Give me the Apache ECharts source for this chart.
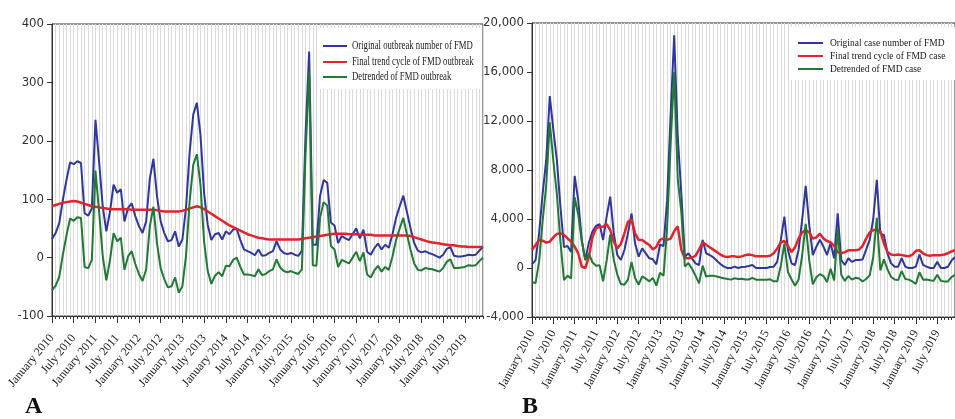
<!DOCTYPE html>
<html><head><meta charset="utf-8">
<script src="https://cdn.jsdelivr.net/npm/echarts@6/dist/echarts.min.js"></script>
<style>html,body{margin:0;padding:0;background:#fff}#c{width:955px;height:419px}</style>
</head><body><div id="c"></div>
<script>
const monthNames = ['January','February','March','April','May','June','July','August','September','October','November','December'];
const years = [2010,2011,2012,2013,2014,2015,2016,2017,2018,2019];
const categories = [];
for (const y of years) for (const m of monthNames) categories.push(m + ' ' + y);

// Panel A: FMD outbreaks
const outbreakOriginal = [
  32,42,59,99,133,163,160,165,162,76,72,84,
  236,165,88,45,78,125,111,117,62,85,93,71,
  54,42,62,135,169,105,62,42,28,30,45,19,
  31,85,180,245,265,210,110,56,30,40,42,31,
  45,40,48,49,30,14,11,8,4,14,3,4,
  8,11,28,14,8,6,8,5,3,12,210,353,
  22,22,105,133,128,60,55,25,37,33,30,40,
  50,33,48,10,5,16,24,14,22,17,40,68,
  88,106,78,50,25,12,9,11,8,6,3,0,
  5,15,18,3,2,2,3,5,4,5,12,18];
const outbreakTrend = [
  88,90,92,94,95,96,97,96,94,92,90,88,
  87,86,85,84,83,83,83,83,83,83,82,82,
  82,82,82,82,82,81,80,79,79,79,79,79,
  80,82,84,86,88,86,83,79,75,71,67,63,
  59,55,52,49,46,43,40,38,36,34,33,32,
  31,31,31,31,31,31,31,31,31,32,33,34,
  35,36,37,38,39,40,41,41,41,41,40,40,
  40,39,39,39,39,38,38,38,38,38,38,38,
  38,38,38,37,35,33,31,29,27,26,25,24,
  23,22,21,21,20,19,19,18,18,18,18,18];
const outbreakDetrended = [
  -56,-48,-33,5,38,67,63,69,68,-16,-18,-4,
  149,79,3,-39,-5,42,28,34,-21,2,11,-11,
  -28,-40,-20,53,87,24,-18,-37,-51,-49,-34,-60,
  -49,3,96,159,177,124,27,-23,-45,-31,-25,-32,
  -14,-15,-4,0,-16,-29,-29,-30,-32,-20,-30,-28,
  -23,-20,-3,-17,-23,-25,-23,-26,-28,-20,177,319,
  -13,-14,68,95,89,20,14,-16,-4,-7,-10,0,
  10,-6,9,-29,-34,-22,-14,-24,-16,-21,2,30,
  50,68,40,13,-10,-21,-22,-18,-19,-20,-22,-24,
  -18,-7,-3,-18,-18,-17,-16,-13,-14,-13,-6,0];

// Panel B: FMD cases
const caseOriginal = [
  300,650,2830,6100,8800,14040,11270,8800,5000,1700,1800,1300,
  7510,5550,2290,650,2070,2970,3430,3590,2290,4190,5820,2830,
  1060,650,1470,2830,4460,2010,925,1600,1200,790,710,300,
  1900,1800,5500,12500,19000,10700,6100,925,1200,790,380,245,
  2290,1200,1060,870,600,330,110,0,0,110,0,80,
  110,160,245,0,0,0,0,80,110,520,2290,4190,
  1470,380,245,1470,3920,6700,3500,1060,1740,2300,1740,1060,
  2040,790,4460,650,245,800,500,650,650,700,1500,2300,
  4000,7200,2800,2700,1200,380,110,110,800,110,0,0,
  110,1100,250,110,0,0,500,0,0,100,600,900];
const caseTrend = [
  1470,1880,2290,2230,2070,2150,2500,2780,2830,2700,2420,2150,
  1740,1200,110,0,900,2500,3240,3370,3370,3590,3100,2150,
  1600,1960,2830,3780,3970,2830,2290,2290,2070,1880,1520,1740,
  2290,2420,2290,2400,3000,3400,1500,800,800,850,1000,1500,
  2100,1900,1700,1500,1300,1100,950,900,950,950,900,950,
  1050,1100,1050,950,950,950,950,1000,1200,1600,2100,2200,
  1800,1300,1700,2400,2900,3100,2900,2400,2500,2800,2400,2200,
  2100,1800,1300,1200,1300,1450,1450,1450,1500,1800,2400,2900,
  3100,3100,3000,2000,1300,1100,1050,1100,1050,1000,950,1100,
  1400,1450,1200,1050,1000,1050,1050,1050,1100,1200,1350,1450];
const caseDetrended = [
  -1170,-1230,540,3870,6730,11890,8770,6020,2170,-1000,-620,-850,
  5770,4350,2180,650,1170,470,190,220,-1080,600,2720,680,
  -540,-1310,-1360,-950,490,-820,-1365,-690,-870,-1090,-810,-1440,
  -390,-620,3210,10100,16000,7300,4600,125,400,-60,-620,-1255,
  190,-700,-640,-630,-700,-770,-840,-900,-950,-840,-900,-870,
  -940,-940,-805,-950,-950,-950,-950,-920,-1090,-1080,190,1990,
  -330,-920,-1455,-930,1020,3600,600,-1340,-760,-500,-660,-1140,
  -60,-1010,3160,-550,-1055,-650,-950,-800,-850,-1100,-900,-600,
  900,4100,-200,700,-100,-720,-940,-990,-250,-890,-950,-1100,
  -1290,-350,-950,-940,-1000,-1050,-550,-1050,-1100,-1100,-750,-550];

const namesA = ['Original outbreak number of FMD','Final trend cycle of FMD outbreak','Detrended of FMD outbreak'];
const namesB = ['Original case number of FMD','Final trend cycle of FMD case','Detrended of FMD case'];

const serifFont = '"Liberation Serif", "Times New Roman", serif';
const sansFont = '"Liberation Sans Narrow", "DejaVu Sans Condensed", "Liberation Sans", Arial, sans-serif';
const BLUE = '#2f379e', RED = '#e3232b', GREEN = '#1f7a33';
const COLORS = [BLUE, RED, GREEN];

function xAxesFor(grid, rot, margin) {
  return [
    {type:'category', gridIndex:grid, data:categories, boundaryGap:false, position:'bottom',
     axisLine:{onZero:false, lineStyle:{color:'#333', width:1}},
     axisTick:{interval:0, length:3, lineStyle:{color:'#333'}},
     axisLabel:{show:false},
     splitLine:{show:true, interval:0, lineStyle:{color:'#dadada', width:1}}},
    {type:'category', gridIndex:grid, data:categories, boundaryGap:false, position:'bottom',
     axisLine:{show:false, onZero:false},
     axisTick:{interval:5, length:7, lineStyle:{color:'#333'}},
     axisLabel:{interval:5, rotate:rot, margin:margin, fontFamily:serifFont, fontSize:12, color:'#222'},
     splitLine:{show:false}}
  ];
}
function yAxisFor(grid, min, max, interval, fmt) {
  return {type:'value', gridIndex:grid, min:min, max:max, interval:interval,
    axisLine:{show:true, lineStyle:{color:'#333'}},
    axisTick:{show:true, length:5, lineStyle:{color:'#333'}},
    axisLabel:{margin:8, fontFamily:sansFont, fontSize:13, color:'#333', formatter:fmt},
    splitLine:{show:false}};
}
function lineSeries(name, data, xi, yi, color, width) {
  return {name:name, type:'line', data:data, xAxisIndex:xi, yAxisIndex:yi,
    showSymbol:false, symbol:'none', animation:false,
    lineStyle:{color:color, width:width}, itemStyle:{color:color}};
}
// Legend drawn as graphic (condensed serif text like the original)
function legendGraphic(names, box, lineX0, lineX1, textX, rows, fontPx, sx) {
  const out = [{type:'rect', shape:box, style:{fill:'#ffffff'}, z:100, zlevel:1}];
  names.forEach((n, k) => {
    out.push({type:'line', shape:{x1:lineX0, y1:rows[k], x2:lineX1, y2:rows[k]},
      style:{stroke:COLORS[k], lineWidth:2}, z:101, zlevel:1});
    out.push({type:'text', x:textX, y:rows[k], scaleX:sx, z:101, zlevel:1,
      style:{text:n, font:fontPx + 'px "Liberation Serif", serif', fill:'#1a1a1a',
        textVerticalAlign:'middle', verticalAlign:'middle'}});
  });
  return out;
}

const chart = echarts.init(document.getElementById('c'), null, {renderer:'canvas'});
chart.setOption({
  animation:false,
  backgroundColor:'#fff',
  grid:[
    {left:52, top:24, width:431, height:292, show:true, borderColor:'#333', borderWidth:1, backgroundColor:'#fff'},
    {left:532, top:23, width:430, height:294, show:true, borderColor:'#333', borderWidth:1, backgroundColor:'#fff'}
  ],
  xAxis:[].concat(xAxesFor(0, 50, 20), xAxesFor(1, 62, 14)),
  yAxis:[
    yAxisFor(0, -100, 400, 100, v => String(v)),
    yAxisFor(1, -4000, 20000, 4000, v => v.toLocaleString('en-US'))
  ],
  series:[
    lineSeries(namesA[0], outbreakOriginal, 0, 0, BLUE, 2),
    lineSeries(namesA[1], outbreakTrend, 0, 0, RED, 2.5),
    lineSeries(namesA[2], outbreakDetrended, 0, 0, GREEN, 2),
    lineSeries(namesB[0], caseOriginal, 2, 1, BLUE, 2),
    lineSeries(namesB[1], caseTrend, 2, 1, RED, 2.5),
    lineSeries(namesB[2], caseDetrended, 2, 1, GREEN, 2)
  ],
  graphic:[].concat(
    legendGraphic(namesA, {x:319, y:28, width:163, height:61}, 323, 347, 352, [46, 62, 77], 12, 0.725),
    legendGraphic(namesB, {x:790, y:27, width:165, height:53}, 798, 823, 830, [43, 56, 69], 11, 0.86),
    [
      {type:'text', left:25, top:395, style:{text:'A', font:'bold 24px "Liberation Serif", serif', fill:'#111'}},
      {type:'text', left:522, top:395, style:{text:'B', font:'bold 24px "Liberation Serif", serif', fill:'#111'}}
    ])
});
</script></body></html>
